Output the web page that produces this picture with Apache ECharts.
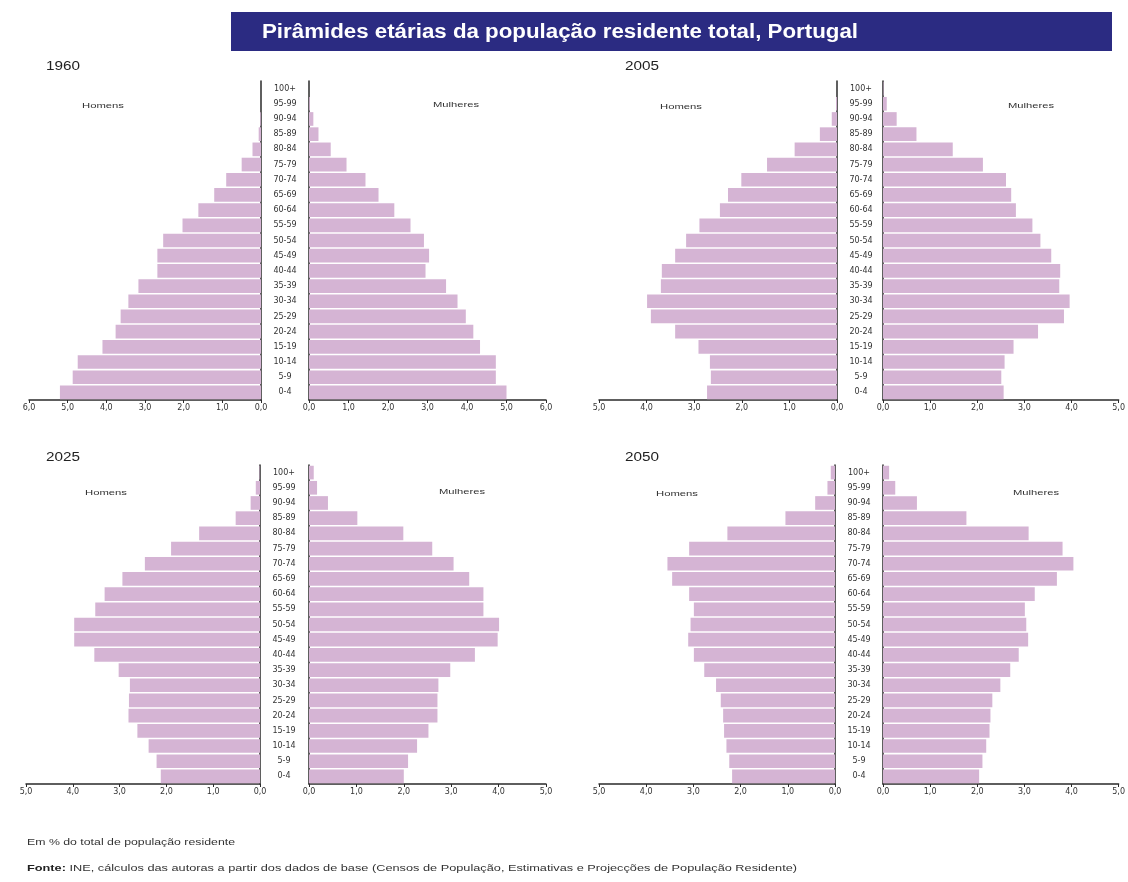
<!DOCTYPE html>
<html>
<head>
<meta charset="utf-8">
<script src="https://cdn.jsdelivr.net/npm/echarts@6/dist/echarts.min.js"></script>
<style>
html,body{margin:0;padding:0;background:#fff;}
#chart{width:1128px;height:882px;}
</style>
</head>
<body>
<div id="chart"></div>
<script>
// Age groups (bottom to top)
var ageGroups = ['0-4','5-9','10-14','15-19','20-24','25-29','30-34','35-39','40-44','45-49','50-54','55-59','60-64','65-69','70-74','75-79','80-84','85-89','90-94','95-99','100+'];

// % of total resident population
var men1960   = [5.20,4.87,4.74,4.10,3.76,3.63,3.43,3.17,2.68,2.68,2.53,2.03,1.62,1.21,0.90,0.50,0.22,0.06,0.02,0.00,0.00];
var women1960 = [5.00,4.73,4.73,4.33,4.16,3.97,3.76,3.47,2.95,3.04,2.91,2.57,2.16,1.76,1.43,0.95,0.55,0.24,0.11,0.02,0.00];
var men2005   = [2.73,2.65,2.67,2.91,3.40,3.91,3.99,3.70,3.68,3.40,3.17,2.89,2.46,2.29,2.01,1.47,0.89,0.36,0.11,0.02,0.00];
var women2005 = [2.56,2.51,2.58,2.77,3.29,3.84,3.96,3.74,3.76,3.57,3.34,3.17,2.82,2.72,2.61,2.12,1.48,0.71,0.29,0.08,0.01];
var men2025   = [2.12,2.21,2.38,2.62,2.81,2.80,2.78,3.02,3.54,3.97,3.97,3.52,3.32,2.94,2.46,1.90,1.30,0.52,0.20,0.09,0.01];
var women2025 = [2.00,2.09,2.28,2.52,2.71,2.71,2.73,2.98,3.50,3.98,4.01,3.68,3.68,3.38,3.05,2.60,1.99,1.02,0.40,0.17,0.10];
var men2050   = [2.18,2.24,2.30,2.35,2.37,2.42,2.52,2.77,2.99,3.11,3.06,2.99,3.09,3.45,3.55,3.09,2.28,1.05,0.42,0.16,0.09];
var women2050 = [2.04,2.11,2.19,2.26,2.28,2.32,2.49,2.70,2.88,3.08,3.04,3.01,3.22,3.69,4.04,3.81,3.09,1.77,0.72,0.26,0.13];

var years = ['1960','2005','2025','2050'];
var axisMax = [6,5,5,5];
var sexLabels = ['Homens','Mulheres'];

var titleText = 'Pirâmides etárias da população residente total, Portugal';
var noteText = 'Em % do total de população residente';
var sourceLabel = 'Fonte:';
var sourceText = ' INE, cálculos das autoras a partir dos dados de base (Censos de População, Estimativas e Projecções de População Residente)';

var panels = [
  {year: years[0], men: men1960, women: women1960, max: axisMax[0],
   mg: {left: 29, width: 232}, wg: {left: 309, width: 237}, top: 81, height: 319,
   yearPos: [46, 67], homPos: [82, 106], mulPos: [433, 105]},
  {year: years[1], men: men2005, women: women2005, max: axisMax[1],
   mg: {left: 599, width: 238}, wg: {left: 883, width: 239}, top: 81, height: 319,
   yearPos: [625, 67], homPos: [660, 107], mulPos: [1008, 106]},
  {year: years[2], men: men2025, women: women2025, max: axisMax[2],
   mg: {left: 26, width: 234}, wg: {left: 309, width: 237}, top: 465, height: 319,
   yearPos: [46, 458], homPos: [85, 493], mulPos: [439, 492]},
  {year: years[3], men: men2050, women: women2050, max: axisMax[3],
   mg: {left: 599, width: 236}, wg: {left: 883, width: 238}, top: 465, height: 319,
   yearPos: [625, 458], homPos: [656, 494], mulPos: [1013, 493]}
];

var barColor = '#d5b4d4';
var axisColor = '#2a2a2a';
var tickFont = {fontSize: 8, color: '#333', fontFamily: '"DejaVu Sans", sans-serif'};
var FF = '"Liberation Sans", Arial, sans-serif';

var measureCtx = document.createElement('canvas').getContext('2d');
function textWidth(t, font){ measureCtx.font = font; return measureCtx.measureText(t).width; }

// text stretched horizontally to a given width (the source image is wide-stretched)
function stretchedText(t, x, yc, font, targetW, fill){
  var w = textWidth(t, font);
  return {type: 'text', x: x, y: yc, scaleX: targetW / w, scaleY: 1, z: 10,
    style: {text: t, fill: fill || '#333', font: font, textVerticalAlign: 'middle', textAlign: 'left'}};
}

var grid = [], xAxis = [], yAxis = [], series = [], graphics = [];

graphics.push({type: 'rect', left: 231, top: 12, shape: {width: 881, height: 39}, style: {fill: '#2b2b82'}});
graphics.push(stretchedText(titleText, 262, 32, 'bold 20px ' + FF, 596, '#ffffff'));
graphics.push(stretchedText(noteText, 27, 843, '9px ' + FF, 208, '#333'));

(function(){
  var fb = 'bold 9px ' + FF, fn = '9px ' + FF;
  var w1 = textWidth(sourceLabel, fb), w2 = textWidth(sourceText, fn);
  var s = 770 / (w1 + w2);
  graphics.push({type: 'text', x: 27, y: 869, scaleX: s, z: 10,
    style: {text: sourceLabel, fill: '#222', font: fb, textVerticalAlign: 'middle'}});
  graphics.push({type: 'text', x: 27 + w1 * s, y: 869, scaleX: s, z: 10,
    style: {text: sourceText, fill: '#333', font: fn, textVerticalAlign: 'middle'}});
})();

function fmt(v){ return v.toFixed(1).replace('.', ','); }

panels.forEach(function(p, i){
  var gm = grid.length;
  grid.push({left: p.mg.left, width: p.mg.width, top: p.top, height: p.height});
  grid.push({left: p.wg.left, width: p.wg.width, top: p.top, height: p.height});
  [0,1].forEach(function(k){
    xAxis.push({
      type: 'value', gridIndex: gm + k, min: 0, max: p.max, interval: 1,
      inverse: k === 0,
      axisLine: {show: true, lineStyle: {color: axisColor, width: 1.5}},
      axisTick: {show: true, length: 3, inside: false, lineStyle: {color: axisColor}},
      axisLabel: Object.assign({margin: 4, formatter: fmt}, tickFont),
      splitLine: {show: false}
    });
  });
  yAxis.push({
    type: 'category', gridIndex: gm, data: ageGroups, position: 'right',
    axisLine: {show: true, onZero: false, lineStyle: {color: axisColor, width: 1.5}},
    axisTick: {show: false},
    axisLabel: Object.assign({margin: 24, align: 'center', interval: 0}, tickFont)
  });
  yAxis.push({
    type: 'category', gridIndex: gm + 1, data: ageGroups, position: 'left',
    axisLine: {show: true, onZero: false, lineStyle: {color: axisColor, width: 1.5}},
    axisTick: {show: false},
    axisLabel: {show: false}
  });
  series.push({type: 'bar', name: sexLabels[0] + ' ' + p.year, xAxisIndex: gm, yAxisIndex: gm, data: p.men,
    barCategoryGap: '10%', itemStyle: {color: barColor}, silent: true});
  series.push({type: 'bar', name: sexLabels[1] + ' ' + p.year, xAxisIndex: gm + 1, yAxisIndex: gm + 1, data: p.women,
    barCategoryGap: '10%', itemStyle: {color: barColor}, silent: true});

  graphics.push(stretchedText(p.year, p.yearPos[0], p.yearPos[1], '12px ' + FF, 34, '#222'));
  graphics.push(stretchedText(sexLabels[0], p.homPos[0], p.homPos[1], '8px ' + FF, 42, '#333'));
  graphics.push(stretchedText(sexLabels[1], p.mulPos[0], p.mulPos[1], '8px ' + FF, 46, '#333'));
});

var chart = echarts.init(document.getElementById('chart'), null, {renderer: 'canvas'});
chart.setOption({
  backgroundColor: '#ffffff',
  animation: false,
  grid: grid, xAxis: xAxis, yAxis: yAxis, series: series,
  graphic: graphics
});
</script>
</body>
</html>
